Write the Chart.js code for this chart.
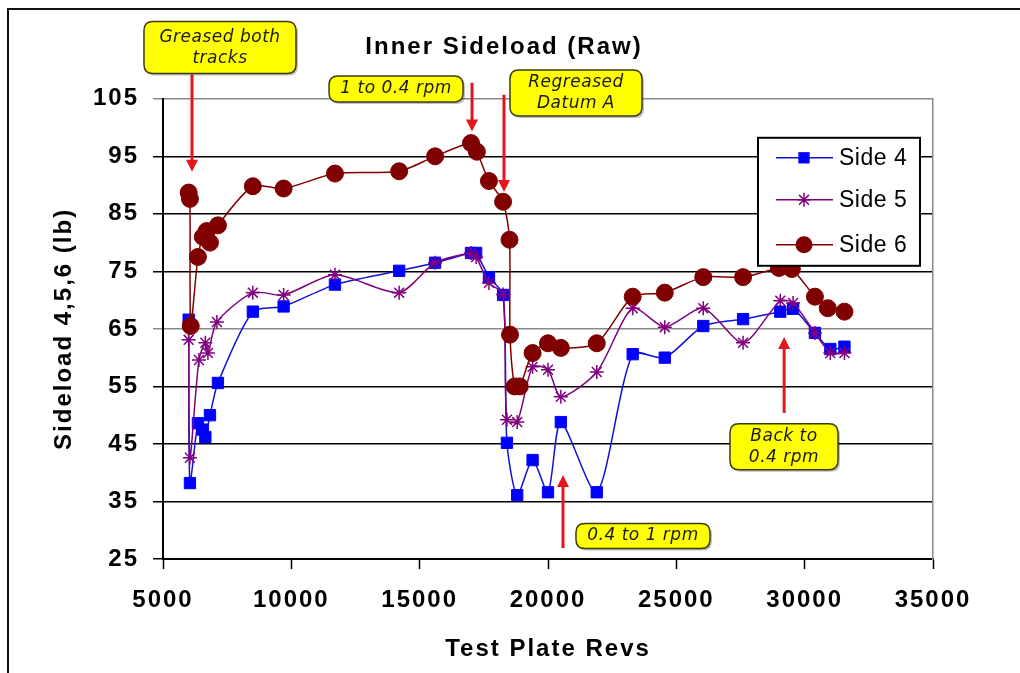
<!DOCTYPE html>
<html>
<head>
<meta charset="utf-8">
<script src="https://cdn.jsdelivr.net/npm/chart.js@4.4.0/dist/chart.umd.min.js"></script>
<style>
  html, body { margin: 0; padding: 0; background: #fff; }
  #wrap { width: 1020px; height: 673px; position: relative; }
</style>
</head>
<body>
<div id="wrap"><canvas id="chart" width="1020" height="673"></canvas></div>
<script>
// --- data ---
const revs4 = [6000, 6050, 6360, 6550, 6650, 6830, 7140, 8500, 9700, 11700, 14200, 15600, 17000, 17200, 17700, 18250, 18400, 18800, 19400, 20000, 20500, 21900, 23300, 24550, 26050, 27600, 29050, 29550, 30400, 31000, 31550];
const side4 = [66.6, 38.2, 48.6, 47.5, 46.2, 50, 55.6, 68, 68.9, 72.7, 75.1, 76.5, 78.2, 78.2, 74, 70.9, 45.2, 36.1, 42.2, 36.6, 48.8, 36.6, 60.6, 60, 65.5, 66.7, 68, 68.5, 64.3, 61.5, 61.9];

const revs5 = [6000, 6050, 6400, 6650, 6750, 7100, 8500, 9700, 11700, 14200, 15600, 17000, 17200, 17700, 18250, 18400, 18800, 19400, 20000, 20500, 21900, 23300, 24550, 26050, 27600, 29050, 29550, 30400, 31000, 31550];
const side5 = [63.1, 42.6, 59.6, 62.6, 60.8, 66.2, 71.3, 70.9, 74.4, 71.3, 76.5, 78.2, 77.5, 73, 71, 49.2, 48.8, 58.4, 57.9, 53.2, 57.5, 68.6, 65.3, 68.6, 62.6, 69.9, 69.5, 64.3, 60.8, 60.8];

const revs6 = [6000, 6050, 6080, 6360, 6550, 6700, 6830, 7140, 8500, 9700, 11700, 14200, 15600, 17000, 17230, 17700, 18250, 18500, 18520, 18700, 18900, 19400, 20000, 20500, 21900, 23300, 24550, 26050, 27600, 29000, 29500, 30400, 30900, 31550];
const side6 = [88.7, 87.6, 65.5, 77.5, 81, 82, 80, 83, 89.8, 89.4, 92, 92.4, 95, 97.3, 95.8, 90.7, 87.1, 80.5, 64, 55, 55, 60.8, 62.5, 61.7, 62.5, 70.6, 71.3, 74, 74, 75.6, 75.4, 70.6, 68.6, 68];

const seriesNames = ["Side 4", "Side 5", "Side 6"];
const xTicks = [5000, 10000, 15000, 20000, 25000, 30000, 35000];
const yTicks = [25, 35, 45, 55, 65, 75, 85, 95, 105];

// callouts, anchored in data units (revs, lb)
const notes = [
    { lines: ["Greased both", "tracks"], bx: 7220, by: 113.9, w: 152, h: 52, ax: 6130, from: 109.2, to: 92.3 },
    { lines: ["1 to 0.4 rpm"], bx: 14080, by: 106.7, w: 134, h: 26, ax: 17040, from: 107.8, to: 99.3 },
    { lines: ["Regreased", "Datum A"], bx: 21090, by: 106.0, w: 132, h: 46, ax: 18285, from: 105.7, to: 88.8 },
    { lines: ["Back to", "0.4 rpm"], bx: 29194, by: 44.5, w: 108, h: 46, ax: 29200, from: 50.4, to: 63.6 },
    { lines: ["0.4 to 1 rpm"], bx: 23700, by: 29.0, w: 134, h: 25, ax: 20584, from: 26.9, to: 39.6 }
];

const boldFont = '"Liberation Sans", Arial, sans-serif';

function pts(xs, ys) {
    return xs.map((x, i) => ({ x: x, y: ys[i] }));
}

function drawMarker(ctx, style, x, y, r, color) {
    ctx.save();
    ctx.fillStyle = color;
    ctx.strokeStyle = color;
    ctx.lineWidth = 1.5;
    ctx.beginPath();
    if (style === "rect") {
        const s = r * Math.SQRT1_2;
        ctx.rect(x - s, y - s, 2 * s, 2 * s);
        ctx.fill();
    } else if (style === "circle") {
        ctx.arc(x, y, r, 0, Math.PI * 2);
        ctx.fill();
    } else {
        for (let k = 0; k < 4; k++) {
            const a = k * Math.PI / 4;
            ctx.moveTo(x - Math.cos(a) * r, y - Math.sin(a) * r);
            ctx.lineTo(x + Math.cos(a) * r, y + Math.sin(a) * r);
        }
        ctx.stroke();
    }
    ctx.restore();
}

const framePlugin = {
    id: "frame",
    beforeDraw(chart) {
        const ctx = chart.ctx;
        // excel-ish wide spacing for the axis / title text
        if ("letterSpacing" in ctx) ctx.letterSpacing = "2px";
        ctx.save();
        ctx.fillStyle = "#fff";
        ctx.fillRect(0, 0, chart.width, chart.height);
        ctx.strokeStyle = "#111";
        ctx.lineWidth = 2;
        ctx.beginPath();
        ctx.moveTo(8, chart.height);
        ctx.lineTo(8, 9);
        ctx.lineTo(chart.width, 9);
        ctx.stroke();
        ctx.restore();
    }
};

const legendPlugin = {
    id: "boxLegend",
    afterDatasetsDraw(chart) {
        const ctx = chart.ctx;
        const area = chart.chartArea;
        const left = area.right - 175, top = area.top + 39;
        const rows = [20, 62, 107];
        ctx.save();
        if ("letterSpacing" in ctx) ctx.letterSpacing = "0.5px";
        ctx.fillStyle = "#fff";
        ctx.fillRect(left, top, 162, 128);
        ctx.strokeStyle = "#000";
        ctx.lineWidth = 2;
        ctx.strokeRect(left, top, 162, 128);
        chart.data.datasets.forEach((ds, i) => {
            const y = top + rows[i];
            ctx.strokeStyle = ds.borderColor;
            ctx.lineWidth = 1.5;
            ctx.beginPath();
            ctx.moveTo(left + 18, y);
            ctx.lineTo(left + 75, y);
            ctx.stroke();
            drawMarker(ctx, ds.pointStyle, left + 46, y, ds.pointRadius, ds.pointBackgroundColor);
            ctx.fillStyle = "#000";
            ctx.font = '23px "Liberation Sans", Arial, sans-serif';
            ctx.textAlign = "left";
            ctx.textBaseline = "middle";
            ctx.fillText(ds.label, left + 81, y + 1);
        });
        ctx.restore();
    }
};

function roundRect(ctx, x, y, w, h, r) {
    ctx.beginPath();
    ctx.moveTo(x + r, y);
    ctx.lineTo(x + w - r, y);
    ctx.quadraticCurveTo(x + w, y, x + w, y + r);
    ctx.lineTo(x + w, y + h - r);
    ctx.quadraticCurveTo(x + w, y + h, x + w - r, y + h);
    ctx.lineTo(x + r, y + h);
    ctx.quadraticCurveTo(x, y + h, x, y + h - r);
    ctx.lineTo(x, y + r);
    ctx.quadraticCurveTo(x, y, x + r, y);
    ctx.closePath();
}

const notesPlugin = {
    id: "callouts",
    afterDraw(chart) {
        const ctx = chart.ctx;
        const sx = chart.scales.x, sy = chart.scales.y;
        ctx.save();
        if ("letterSpacing" in ctx) ctx.letterSpacing = "0.5px";
        notes.forEach(n => {
            // arrow
            const ax = sx.getPixelForValue(n.ax);
            const y0 = sy.getPixelForValue(n.from);
            const y1 = sy.getPixelForValue(n.to);
            const dir = y1 > y0 ? 1 : -1;
            ctx.strokeStyle = "#e3161d";
            ctx.fillStyle = "#e3161d";
            ctx.lineWidth = 3;
            ctx.beginPath();
            ctx.moveTo(ax, y0);
            ctx.lineTo(ax, y1 - dir * 10);
            ctx.stroke();
            ctx.beginPath();
            ctx.moveTo(ax, y1);
            ctx.lineTo(ax - 6, y1 - dir * 12);
            ctx.lineTo(ax + 6, y1 - dir * 12);
            ctx.closePath();
            ctx.fill();

            // box
            const cx = sx.getPixelForValue(n.bx);
            const cy = sy.getPixelForValue(n.by);
            const bx = cx - n.w / 2, by = cy - n.h / 2;
            ctx.fillStyle = "rgba(0,0,0,0.25)";
            roundRect(ctx, bx + 2, by + 2, n.w, n.h, 9);
            ctx.fill();
            ctx.fillStyle = "#ffff00";
            roundRect(ctx, bx, by, n.w, n.h, 9);
            ctx.fill();
            ctx.strokeStyle = "#3c3c10";
            ctx.lineWidth = 1.5;
            ctx.stroke();
            ctx.fillStyle = "#1a1a1a";
            ctx.font = 'italic 17px "DejaVu Sans", sans-serif';
            ctx.textAlign = "center";
            ctx.textBaseline = "middle";
            const lh = 21;
            const start = cy - (n.lines.length - 1) * lh / 2;
            n.lines.forEach((t, k) => ctx.fillText(t, cx, start + k * lh));
        });
        ctx.restore();
    }
};

const gridColor = c => (c.tick && (c.tick.value === 65 || c.tick.value === 105)) ? "#8a8a8a" : "#000";

new Chart(document.getElementById("chart"), {
    type: "line",
    data: {
        datasets: [
            {
                label: seriesNames[0], data: pts(revs4, side4), order: 3,
                borderColor: "#1010d8", backgroundColor: "#0000ff",
                pointBackgroundColor: "#0000ff", pointBorderColor: "#0000ff",
                pointStyle: "rect", pointRadius: 8, pointBorderWidth: 1,
                borderWidth: 1.5, tension: 0.25
            },
            {
                label: seriesNames[1], data: pts(revs5, side5), order: 2,
                borderColor: "#800080", backgroundColor: "#800080",
                pointBackgroundColor: "#800080", pointBorderColor: "#800080",
                pointStyle: "star", pointRadius: 7, pointBorderWidth: 1.5,
                borderWidth: 1.5, tension: 0.25
            },
            {
                label: seriesNames[2], data: pts(revs6, side6), order: 1,
                borderColor: "#800000", backgroundColor: "#800000",
                pointBackgroundColor: "#800000", pointBorderColor: "#800000",
                pointStyle: "circle", pointRadius: 8.5, pointBorderWidth: 1,
                borderWidth: 1.5, tension: 0.25
            }
        ]
    },
    options: {
        responsive: false,
        animation: false,
        devicePixelRatio: 1,
        layout: { padding: { left: 0, right: 12, top: 0, bottom: 0 } },
        plugins: {
            legend: { display: false },
            tooltip: { enabled: false },
            title: {
                display: true,
                text: "Inner Sideload (Raw)",
                color: "#000",
                font: { family: boldFont, size: 24, weight: "bold" },
                padding: { top: 33, bottom: 37 }
            }
        },
        scales: {
            x: {
                type: "linear",
                min: xTicks[0], max: xTicks[xTicks.length - 1],
                afterBuildTicks: s => { s.ticks = xTicks.map(v => ({ value: v })); },
                afterFit: s => { s.height = 114; },
                grid: { drawOnChartArea: false, drawTicks: true, tickLength: 10, tickColor: "#000", tickWidth: 1.5 },
                border: { display: true, color: "#000", width: 2 },
                ticks: {
                    color: "#000", padding: 17, maxRotation: 0,
                    font: { family: boldFont, size: 24, weight: "bold" },
                    callback: v => String(v)
                },
                title: {
                    display: true, text: "Test Plate Revs", color: "#000",
                    font: { family: boldFont, size: 24, weight: "bold" },
                    padding: { top: 0, bottom: 9 }
                }
            },
            y: {
                position: "left",
                min: yTicks[0], max: yTicks[yTicks.length - 1],
                afterBuildTicks: s => { s.ticks = yTicks.map(v => ({ value: v })); },
                afterFit: s => { s.width = 163; },
                grid: { color: gridColor, tickColor: gridColor, lineWidth: 1.5, tickWidth: 1.5, tickLength: 10 },
                border: { display: true, color: "#000", width: 2 },
                ticks: {
                    color: "#000", padding: 14,
                    font: { family: boldFont, size: 24, weight: "bold" }
                },
                title: {
                    display: true, text: "Sideload 4,5,6 (lb)", color: "#000",
                    font: { family: boldFont, size: 24, weight: "bold" },
                    padding: { top: 50, bottom: 0 }
                }
            },
            yRight: {
                position: "right",
                min: yTicks[0], max: yTicks[yTicks.length - 1],
                afterFit: s => { s.width = 75; },
                grid: { display: false, drawOnChartArea: false, drawTicks: false },
                border: { display: true, color: "#8a8a8a", width: 1.5 },
                ticks: { display: false }
            }
        }
    },
    plugins: [framePlugin, legendPlugin, notesPlugin]
});
</script>
</body>
</html>
